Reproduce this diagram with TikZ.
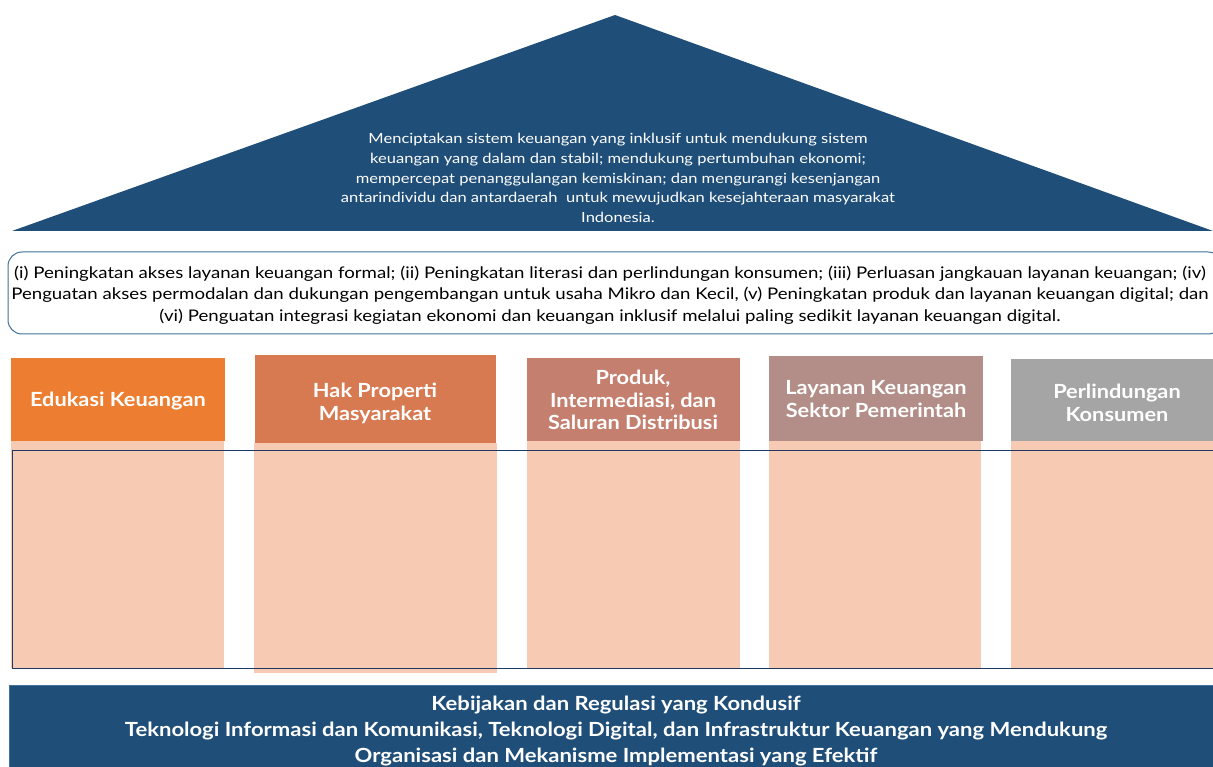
\documentclass[tikz,border=0pt]{standalone}
\usepackage{fontspec}
\setmainfont{Lato}
\newfontfamily\rooffont[FakeStretch=1.18]{Lato}
\newfontfamily\objfont[FakeStretch=1.165]{Lato}
\newfontfamily\headfont[FakeStretch=1.115]{Lato}
\newfontfamily\basefont[FakeStretch=1.13]{Lato}
\definecolor{navy}{HTML}{1F4E79}
\definecolor{boxline}{HTML}{41719C}
\definecolor{frameline}{HTML}{1F3864}
\definecolor{pA}{HTML}{ED7D31}
\definecolor{pB}{HTML}{D77A52}
\definecolor{pC}{HTML}{C47F6F}
\definecolor{pD}{HTML}{B38E88}
\definecolor{pE}{HTML}{A5A5A5}
\definecolor{peach}{HTML}{F7CBB3}
\begin{document}
\begin{tikzpicture}[x=1pt,y=-1pt,
  head/.style={inner sep=0pt,text=white,font=\headfont\fontsize{19.5}{22.8}\selectfont\bfseries,align=center},
  body/.style={fill=peach,draw=none},
]
\useasboundingbox (0,0) rectangle (1213,767);
% roof
\fill[navy] (12,231) -- (615,15) -- (1213,231) -- cycle;
\node[text=white,align=center,font=\rooffont\fontsize{14}{19.6}\selectfont] (roof) at (618,178)
 {Menciptakan sistem keuangan yang inklusif untuk mendukung sistem\\
  keuangan yang dalam dan stabil; mendukung pertumbuhan ekonomi;\\
  mempercepat penanggulangan kemiskinan; dan mengurangi kesenjangan\\
  antarindividu dan antardaerah\ \ untuk mewujudkan kesejahteraan masyarakat\\
  Indonesia.};
% objectives box
\draw[boxline,line width=1pt,fill=white,rounded corners=14pt] (8,252) rectangle (1222,334);
\node[align=center,font=\objfont\fontsize{16}{21.5}\selectfont] (obj) at (610,295)
 {(i) Peningkatan akses layanan keuangan formal; (ii) Peningkatan literasi dan perlindungan konsumen; (iii) Perluasan jangkauan layanan keuangan; (iv)\\
  Penguatan akses permodalan dan dukungan pengembangan untuk usaha Mikro dan Kecil, (v) Peningkatan produk dan layanan keuangan digital; dan\\
  (vi) Penguatan integrasi kegiatan ekonomi dan keuangan inklusif melalui paling sedikit layanan keuangan digital.};
% pillar bodies
\fill[body] (11,441) rectangle (224,668);
\fill[body] (254,443) rectangle (497,673);
\fill[body] (527,441) rectangle (740,668);
\fill[body] (769,441) rectangle (981,668);
\fill[body] (1011,441) rectangle (1213,668);
% pillar heads
\fill[pA] (11,358) rectangle (225,441);
\fill[pB] (255,355) rectangle (496,443);
\fill[pC] (527,358) rectangle (740,441);
\fill[pD] (769,356) rectangle (983,441);
\fill[pE] (1011,359) rectangle (1213,441);
\node[head] (h1) at (118,401) {Edukasi Keuangan};
\node[head] (h2) at (375,403) {Hak Properti\\Masyarakat};
\node[head] (h3) at (633,400) {Produk,\\Intermediasi, dan\\Saluran Distribusi};
\node[head] (h4) at (876,399) {Layanan Keuangan\\Sektor Pemerintah};
\node[head] (h5) at (1117,403) {Perlindungan\\Konsumen};
% frame
\draw[frameline,line width=1pt] (12,450) rectangle (1225,668);
% foundation
\draw[boxline,line width=1pt,fill=navy] (9,685) rectangle (1225,780);
\node[text=white,align=center,font=\basefont\fontsize{19.5}{26}\selectfont\bfseries] (base) at (616,731.5)
 {Kebijakan dan Regulasi yang Kondusif\\
  Teknologi Informasi dan Komunikasi, Teknologi Digital, dan Infrastruktur Keuangan yang Mendukung\\
  Organisasi dan Mekanisme Implementasi yang Efektif};
\end{tikzpicture}
\end{document}
